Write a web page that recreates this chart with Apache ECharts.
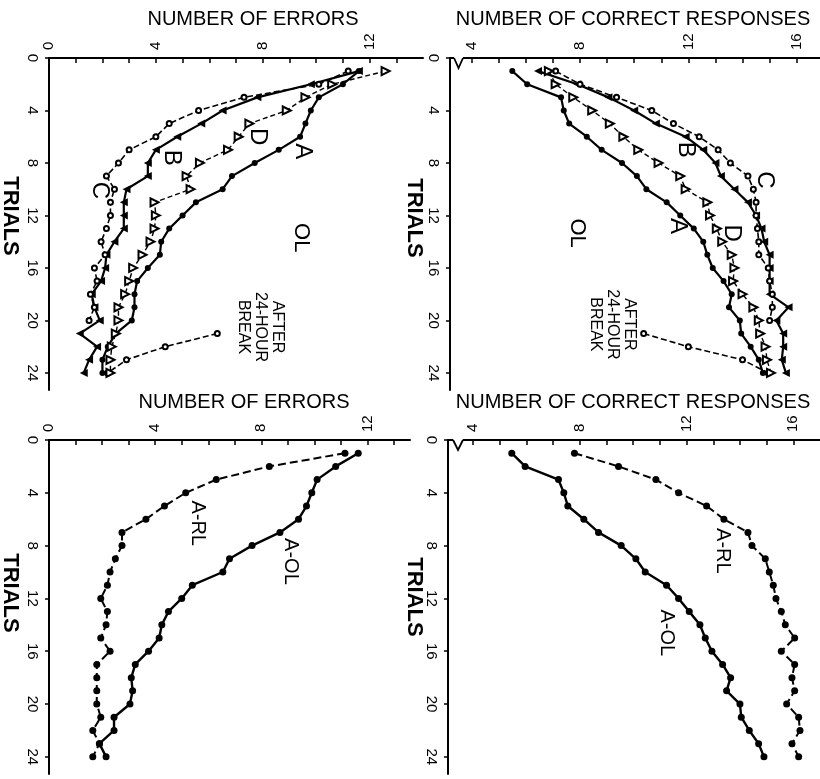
<!DOCTYPE html>
<html>
<head>
<meta charset="utf-8">
<script src="https://cdn.jsdelivr.net/npm/echarts@6/dist/echarts.min.js"></script>
<style>
html, body { margin: 0; padding: 0; background: #fff; }
#chart { width: 820px; height: 779px; }
</style>
</head>
<body>
<div id="chart"></div>
<script>
// trials and tick values
var trials = [1,2,3,4,5,6,7,8,9,10,11,12,13,14,15,16,17,18,19,20,21,22,23,24];
var breakTrials = [21,22,23,24];
var trialTicks = [0,4,8,12,16,20,24];
var errTicks = [0,1,2,3,4,5,6,7,8,9,10,11,12,13];
var errLabels = [0,4,8,12];
var corTicks = [4,5,6,7,8,9,10,11,12,13,14,15,16];
var corLabels = [4,8,12,16];

// top left: number of errors (OL groups A-D)
var errA = [11.6,11.0,10.1,9.8,9.6,9.4,8.6,7.7,6.85,6.5,5.5,5.0,4.5,4.2,4.15,3.7,3.3,3.2,3.2,3.1,2.5,2.2,2.0,2.0];
var errB = [11.6,9.8,7.8,6.5,5.7,4.8,4.0,3.7,3.7,2.9,2.8,2.8,2.8,2.45,2.15,2.1,1.95,1.6,1.7,1.9,1.15,1.8,1.5,1.3];
var errC = [11.2,10.1,7.3,5.6,4.5,4.0,3.0,2.6,2.15,2.45,2.3,2.3,2.15,1.95,2.1,1.7,1.8,1.55,1.7,1.5];
var errCBreak = [6.3,4.35,2.9,2.2];
var errD = [12.6,10.6,9.6,8.9,7.5,7.1,6.7,5.65,5.15,5.3,3.95,4.0,3.95,3.8,3.5,3.15,3.0,2.85,2.6,2.6,2.5,2.35,2.3,2.3];

// top right: number of correct responses
var corA = [5.5,6.05,7.3,7.4,7.6,8.25,8.8,9.55,10.1,10.45,11.2,11.7,12.2,12.55,12.7,12.9,13.3,13.6,13.5,13.9,13.95,14.3,14.6,14.75];
var corB = [6.45,7.9,9.05,10.0,10.8,11.9,12.55,13.0,13.2,13.7,14.2,14.5,14.7,14.8,15.0,15.0,15.0,15.0,15.7,15.25,15.5,15.5,15.45,15.6];
var corC = [7.1,8.0,9.35,10.65,11.45,12.4,13.1,13.55,14.2,14.4,14.5,14.5,14.55,14.6,14.6,14.95,15.0,15.1,15.1,15.0];
var corCBreak = [10.35,12.0,14.0,14.95];
var corD = [6.85,7.1,7.75,8.45,9.1,9.6,10.15,10.9,11.7,11.9,12.7,12.8,13.05,13.25,13.6,13.7,13.65,14.0,14.4,14.6,14.65,14.85,14.9,15.05];

// bottom: A-RL vs A-OL
var rlErr = [11.15,8.3,6.3,5.15,4.35,3.65,2.75,2.75,2.5,2.3,2.2,1.95,2.2,2.15,1.95,2.3,1.8,1.8,1.8,1.8,1.95,1.65,1.9,1.65];
var olErr = [11.65,10.8,10.1,9.9,9.7,9.4,8.7,7.65,6.8,6.55,5.4,5.0,4.5,4.25,4.15,3.75,3.25,3.1,3.15,3.05,2.45,2.45,1.9,2.15];
var olCor = [5.45,5.95,7.2,7.4,7.55,8.15,8.7,9.55,10.1,10.45,11.25,11.7,12.1,12.5,12.7,12.95,13.35,13.65,13.5,14.0,14.05,14.35,14.7,14.9];
var rlCor = [7.8,9.45,10.85,11.7,12.75,13.4,14.3,14.45,14.95,15.1,15.25,15.35,15.55,15.7,16.05,15.55,16.05,15.95,16.05,15.75,16.2,16.25,15.95,16.2];

var FONT = '"Liberation Sans", Arial, sans-serif';
var myChart = echarts.init(document.getElementById('chart'));

function pts(vals, ts) {
    var out = [];
    for (var i = 0; i < vals.length; i++) {
        out.push([vals[i], ts[i]]);
    }
    return out;
}

function line(idx, vals, ts, sym, size, dash, width, rot) {
    var empty = sym.indexOf('empty') === 0;
    return {
        type: 'line',
        xAxisIndex: idx,
        yAxisIndex: idx,
        data: pts(vals, ts),
        symbol: sym,
        symbolSize: size,
        symbolRotate: rot || 0,
        showAllSymbol: true,
        animation: false,
        lineStyle: { color: '#000', width: width, type: dash ? dash : 'solid' },
        itemStyle: { color: '#000', borderColor: '#000', borderWidth: empty ? 1.2 : 0 },
        emphasis: { disabled: true }
    };
}

function xAx(idx, min, max, ticks, labels) {
    return {
        gridIndex: idx, type: 'value', position: 'top', min: min, max: max,
        axisLine: { show: true, onZero: false, lineStyle: { color: '#000', width: 2 } },
        axisTick: { show: true, inside: true, length: 5, customValues: ticks, lineStyle: { color: '#000', width: 1.5 } },
        axisLabel: { customValues: labels, rotate: -90, margin: 8, color: '#000', fontSize: 15, fontFamily: FONT },
        splitLine: { show: false }
    };
}

function yAx(idx) {
    return {
        gridIndex: idx, type: 'value', inverse: true, min: 0, max: 25.3,
        axisLine: { show: true, onZero: false, lineStyle: { color: '#000', width: 2 } },
        axisTick: { show: true, length: 4, customValues: trialTicks, lineStyle: { color: '#000', width: 1.5 } },
        axisLabel: { customValues: trialTicks, rotate: -90, margin: 9, color: '#000', fontSize: 15, fontFamily: FONT },
        splitLine: { show: false }
    };
}

var option = {
    backgroundColor: '#fff',
    animation: false,
    grid: [
        { left: 49, top: 58, width: 374, height: 332 },
        { left: 450, top: 58, width: 370, height: 332 },
        { left: 49, top: 440, width: 361, height: 334 },
        { left: 448, top: 440, width: 372, height: 334 }
    ],
    xAxis: [
        xAx(0, 0, 14, errTicks, errLabels),
        xAx(1, 3.2, 16.86, corTicks, corLabels),
        xAx(2, 0, 13.6, errTicks, errLabels),
        xAx(3, 3.06, 17.0, corTicks, corLabels)
    ],
    yAxis: [yAx(0), yAx(1), yAx(2), yAx(3)],
    series: [
        line(0, errA, trials, 'circle', 6, null, 2.2),
        line(0, errB, trials, 'triangle', 8, null, 2.2, 90),
        line(0, errC, trials, 'emptyCircle', 5, [6, 3], 1.6),
        line(0, errCBreak, breakTrials, 'emptyCircle', 5, [6, 3], 1.6),
        line(0, errD, trials, 'emptyTriangle', 8, [5, 3], 1.4, -90),

        line(1, corA, trials, 'circle', 6, null, 2.2),
        line(1, corB, trials, 'triangle', 8, null, 2.2, 90),
        line(1, corC, trials, 'emptyCircle', 5, [6, 3], 1.6),
        line(1, corCBreak, breakTrials, 'emptyCircle', 5, [6, 3], 1.6),
        line(1, corD, trials, 'emptyTriangle', 8, [5, 3], 1.4, -90),

        line(2, rlErr, trials, 'circle', 7, [8, 4], 2),
        line(2, olErr, trials, 'circle', 7, null, 2.4),
        line(3, olCor, trials, 'circle', 7, null, 2.4),
        line(3, rlCor, trials, 'circle', 7, [8, 4], 2)
    ]
};
myChart.setOption(option);

// texts and the axis break marks
var g = [];
function txt(x, y, s, font, rot, lh) {
    var st = { text: s, fill: '#000', font: font, textAlign: 'center', textVerticalAlign: 'middle' };
    if (lh) st.lineHeight = lh;
    g.push({ type: 'text', x: x, y: y, rotation: rot, z: 100, style: st });
}
function dtxt(idx, v, t, s, size, lh) {
    var p = myChart.convertToPixel({ xAxisIndex: idx, yAxisIndex: idx }, [v, t]);
    txt(p[0], p[1], s, size + 'px ' + FONT, -Math.PI / 2, lh);
}

var titleFont = '20px ' + FONT;
var trialFont = 'bold 22px ' + FONT;
txt(253, 19, 'NUMBER OF ERRORS', titleFont, 0);
txt(633, 19, 'NUMBER OF CORRECT RESPONSES', titleFont, 0);
txt(244, 402, 'NUMBER OF ERRORS', titleFont, 0);
txt(633, 402, 'NUMBER OF CORRECT RESPONSES', titleFont, 0);
txt(10, 216, 'TRIALS', trialFont, -Math.PI / 2);
txt(414, 218, 'TRIALS', trialFont, -Math.PI / 2);
txt(10, 593, 'TRIALS', trialFont, -Math.PI / 2);
txt(414, 597, 'TRIALS', trialFont, -Math.PI / 2);

dtxt(0, 1.9, 10.1, 'C', 24);
dtxt(0, 4.6, 7.6, 'B', 24);
dtxt(0, 7.8, 6.0, 'D', 24);
dtxt(0, 9.5, 7.1, 'A', 24);
dtxt(0, 9.45, 13.7, 'OL', 22);
dtxt(0, 7.9, 20.5, 'AFTER\n24-HOUR\nBREAK', 16, 17);

dtxt(1, 14.8, 9.3, 'C', 24);
dtxt(1, 11.9, 7.0, 'B', 24);
dtxt(1, 11.6, 12.8, 'A', 24);
dtxt(1, 13.6, 13.35, 'D', 24);
dtxt(1, 7.9, 13.35, 'OL', 22);
dtxt(1, 9.2, 20.3, 'AFTER\n24-HOUR\nBREAK', 16, 17);

dtxt(2, 5.6, 6.3, 'A-RL', 20);
dtxt(2, 9.1, 9.2, 'A-OL', 20);
dtxt(3, 13.34, 8.4, 'A-RL', 20);
dtxt(3, 11.25, 14.6, 'A-OL', 20);

function brk(idx, a, b) {
    var p1 = myChart.convertToPixel({ xAxisIndex: idx, yAxisIndex: idx }, [a, 0]);
    var p2 = myChart.convertToPixel({ xAxisIndex: idx, yAxisIndex: idx }, [b, 0]);
    g.push({ type: 'rect', z: 99, shape: { x: p1[0], y: p1[1] - 2, width: p2[0] - p1[0], height: 4 }, style: { fill: '#fff' } });
    g.push({ type: 'polyline', z: 100, shape: { points: [[p1[0], p1[1]], [(p1[0] + p2[0]) / 2, p1[1] + 10], [p2[0], p1[1]]] },
        style: { stroke: '#000', lineWidth: 1.8, fill: null } });
}
brk(1, 3.35, 3.68);
brk(3, 3.25, 3.62);

myChart.setOption({ graphic: g });
</script>
</body>
</html>
